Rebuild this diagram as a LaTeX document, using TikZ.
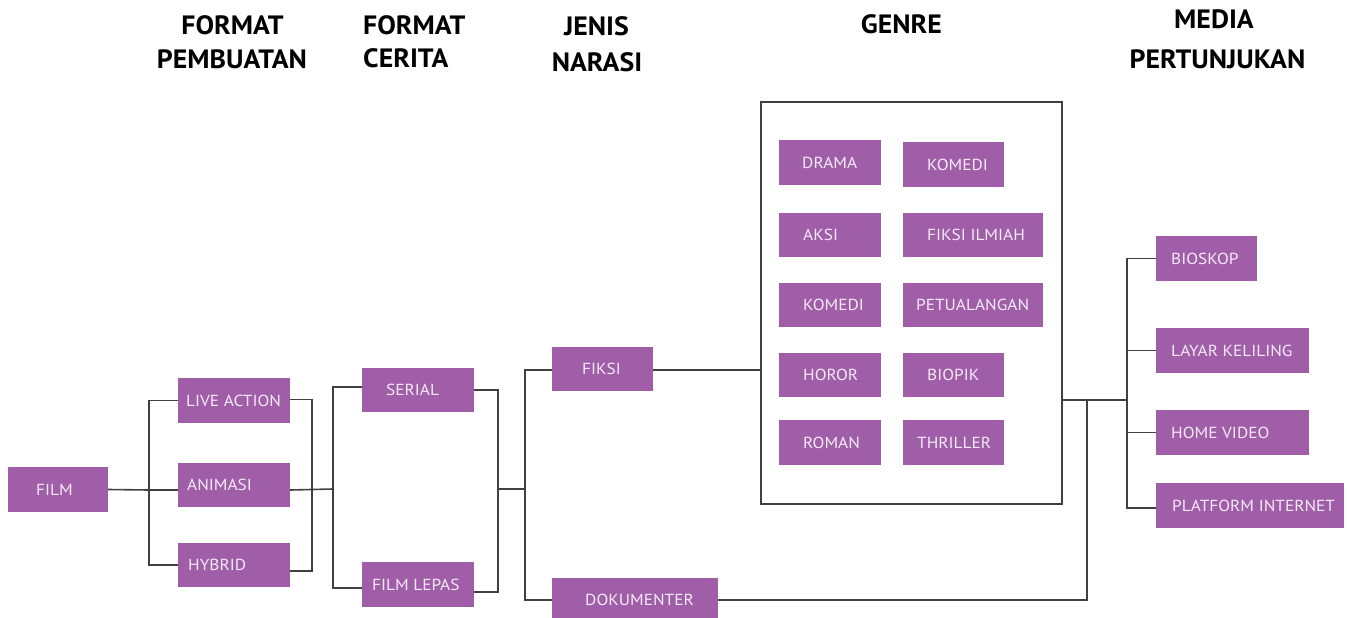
\documentclass[tikz,border=0pt]{standalone}
\usepackage{fontspec}
\setmainfont{PT Sans}
\newfontfamily\boxfont[FakeStretch=1.08]{PT Sans}
\newfontfamily\headfont[FakeStretch=1.05]{PT Sans}
\definecolor{boxfill}{RGB}{160,94,168}
\definecolor{boxtext}{RGB}{244,234,246}
\definecolor{linecol}{RGB}{64,64,64}
\tikzset{
  pbox/.style={fill=boxfill, draw=none, inner sep=0pt},
  plabel/.style={text=boxtext, inner sep=0pt, text height=11pt, text depth=0pt, anchor=west,
    font=\boxfont\fontsize{16}{18}\selectfont},
  head/.style={inner sep=0pt, anchor=base, font=\headfont\bfseries\fontsize{26.5}{30}\selectfont},
  conn/.style={draw=linecol, line width=1.6pt},
  frame/.style={draw=linecol, line width=1.6pt, fill=none, inner sep=0pt}
}
\newcommand\mkbox[7]{% name, cx, cy, w, h, textx, text
  \node[pbox, minimum width=#4pt, minimum height=#5pt] (#1) at (#2,#3) {};
  \node[plabel] (#1-t) at (#6,#3) {#7};
}
\begin{document}
\begin{tikzpicture}[x=1pt,y=-1pt]
\useasboundingbox (0,0) rectangle (1349,618);
% headers
\node[head] (h1a) at (232.5,35) {FORMAT};
\node[head] (h1b) at (232,68) {PEMBUATAN};
\node[head, anchor=base west] (h2a) at (363,35) {FORMAT};
\node[head, anchor=base west] (h2b) at (363,67) {CERITA};
\node[head] (h3a) at (596.5,36) {JENIS};
\node[head] (h3b) at (597,71) {NARASI};
\node[head] (h4) at (901.5,34) {GENRE};
\node[head] (h5a) at (1214,29) {MEDIA};
\node[head] (h5b) at (1217.5,69) {PERTUNJUKAN};

% genre frame
\node[frame, minimum width=301pt, minimum height=402pt] (genre) at (911.5,303) {};

% boxes
\mkbox{film}{58}{489.5}{100}{45}{36}{FILM}
\mkbox{live}{234}{400.5}{112}{45}{186}{LIVE ACTION}
\mkbox{anim}{234}{485}{112}{44}{187}{ANIMASI}
\mkbox{hyb}{234}{565}{112}{44}{188}{HYBRID}
\mkbox{serial}{418}{390}{112}{44}{386}{SERIAL}
\mkbox{lepas}{418}{584.5}{112}{45}{372}{FILM LEPAS}
\mkbox{fiksi}{602.5}{369}{101}{44}{582}{FIKSI}
\mkbox{doku}{635}{600}{166}{44}{585}{DOKUMENTER}

\mkbox{drama}{830}{162.5}{102}{45}{802}{DRAMA}
\mkbox{komedia}{953.5}{164.5}{101}{45}{927}{KOMEDI}
\mkbox{aksi}{830}{235}{102}{44}{803}{AKSI}
\mkbox{ilmiah}{973}{235}{140}{44}{927}{FIKSI ILMIAH}
\mkbox{komedib}{830}{305}{102}{44}{803}{KOMEDI}
\mkbox{petual}{973}{305}{140}{44}{916}{PETUALANGAN}
\mkbox{horor}{830}{375}{102}{44}{803}{HOROR}
\mkbox{biopik}{953.5}{375}{101}{44}{927}{BIOPIK}
\mkbox{roman}{830}{442.5}{102}{45}{803}{ROMAN}
\mkbox{thrill}{953.5}{442.5}{101}{45}{917}{THRILLER}

\mkbox{bios}{1206.5}{258.5}{101}{45}{1171}{BIOSKOP}
\mkbox{layar}{1232.5}{350.5}{153}{45}{1171}{LAYAR KELILING}
\mkbox{home}{1232.5}{432.5}{153}{45}{1171}{HOME VIDEO}
\mkbox{plat}{1250}{505.5}{188}{45}{1172}{PLATFORM INTERNET}

% junction coordinates
\coordinate (b1) at (149,490);
\coordinate (b2) at (312,490);
\coordinate (b3) at (333,489);
\coordinate (b4) at (498,489);
\coordinate (b5) at (525,489);
\coordinate (b6) at (1087,400);
\coordinate (b7) at (1127,400);

% connectors
\draw[conn] (film.east) -- (b1);
\draw[conn] (live.west) -| (b1) |- (hyb.west);
\draw[conn] (b1) -- (anim.west |- b1);
\draw[conn] ([yshift=1pt]live.east) -| (b2) |- ([yshift=-6pt]hyb.east);
\draw[conn] (anim.east |- b2) -- (b3);
\draw[conn] ([yshift=3pt]serial.west) -| (b3) |- ([yshift=-3.5pt]lepas.west);
\draw[conn] (serial.east) -| (b4) |- ([yshift=-7.5pt]lepas.east);
\draw[conn] (b4) -- (b5);
\draw[conn] ([yshift=-1pt]fiksi.west) -| (b5) |- (doku.west);
\draw[conn] ([yshift=-1pt]fiksi.east) -- ([yshift=-1pt]fiksi.east -| genre.west);
\draw[conn] (genre.east |- b6) -- (b7);
\draw[conn] (doku.east) -| (b6);
\draw[conn] (bios.west) -| (b7) |- ([yshift=-2.5pt]plat.west);
\draw[conn] (layar.west -| b7) -- (layar.west);
\draw[conn] (home.west -| b7) -- (home.west);
\end{tikzpicture}
\end{document}
